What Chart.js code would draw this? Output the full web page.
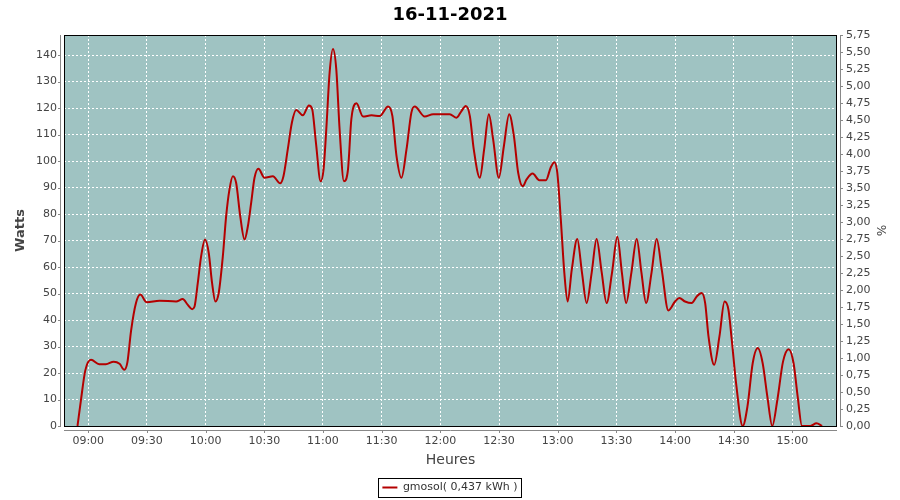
<!DOCTYPE html>
<html>
<head>
<meta charset="utf-8">
<script src="https://cdn.jsdelivr.net/npm/chart.js@4.4.0/dist/chart.umd.min.js"></script>
<style>
html,body{margin:0;padding:0;background:#fff;}
#wrap{width:900px;height:500px;}
</style>
</head>
<body>
<div id="wrap"><canvas id="c" width="900" height="500"></canvas></div>
<script>
const chartTitle = "16-11-2021";
const seriesLabel = "gmosol( 0,437 kWh )";
const xAxisTitle = "Heures";
const leftAxisTitle = "Watts";
const rightAxisTitle = "%";

// minutes after 09:00
const timeMinutes = [
  -5.5, -3.7, -1.5, 1.4, 5.6, 9, 13, 16, 18.4, 20, 21.9, 24.4, 26.6, 29.9, 36.4, 44.9, 48.3, 50.8, 53.1, 54.3,
  56, 57.7, 59.7, 61.6, 63.3, 65, 66.7, 68.8, 70.5, 72.2, 73.9, 75.6, 77.7, 79.9, 81.6, 83.3, 85, 87, 90.1, 94.4,
  98.1, 99.8, 102, 104.1, 106.3, 109.7, 112.8, 114.5, 116.4, 118.8, 120.3, 121.7, 123.4, 125.1, 126.8, 128.5, 130.7, 132.8, 134.5, 137.1,
  140.5, 144.8, 149, 153.3, 155.5, 157.6, 160.1, 162.7, 165.2, 166.9, 172, 176.3, 184.8, 188.3, 190.8, 193, 195.1, 197.1, 200.2, 202.4,
  204.8, 207, 209.9, 212.5, 215.2, 217.6, 219.8, 222.1, 224.1, 227.2, 230.6, 234, 236.4, 238.3, 239.8, 241.6, 243.4, 245.1, 247.2, 250,
  252.4, 254.8, 257.4, 259.9, 262.5, 265, 267.8, 270.5, 272.8, 275, 277.7, 280.4, 282.8, 285.2, 288, 290.6, 293.2, 296.6, 300, 302.2,
  305.1, 308.5, 311.1, 313.6, 315.4, 317.1, 320, 322.7, 325.3, 327.3, 329, 331.2, 334.6, 337, 339.7, 342.3, 344.8, 347.2, 349.7, 352.3,
  355.2, 358.1, 360.6, 362.7, 364.9, 369.2, 372.3, 375.2
];
const watts = [
  0, 10, 21, 25, 23.3, 23.3, 24.3, 23.5, 21.2, 24, 36, 46.4, 49.6, 46.7, 47.3, 47, 47.9, 45.8, 44.1, 45,
  54, 64, 70.4, 65.3, 54, 47, 50.2, 64, 79.2, 89.3, 94.3, 91.8, 79.2, 70.4, 75.4, 84.3, 93.7, 97.1, 93.7, 94.3,
  91.6, 94.3, 104.4, 114.5, 119.3, 117.3, 121, 119.6, 107, 92.4, 96.9, 112, 133.4, 142.3, 134.7, 112, 92.4, 96.9, 115.8, 121.8,
  116.8, 117.3, 117, 120.6, 117, 101.9, 93.7, 104.4, 118.3, 120.6, 116.8, 117.7, 117.7, 116.4, 118.9, 120.8, 117, 104.4, 93.7, 104.4,
  117.7, 108.2, 93.7, 105.7, 117.7, 109.5, 95.6, 90.5, 93.1, 95.3, 92.8, 92.8, 97.5, 99.6, 95.6, 77.9, 57.8, 47, 59, 70.6,
  58, 46.4, 58, 70.6, 58, 46.4, 58, 71.4, 58, 46.4, 58, 70.6, 58, 46.4, 58, 70.6, 59, 43.6, 47, 48.3,
  47, 46.4, 48.9, 50.2, 46.4, 33.8, 23.1, 33.8, 47, 43.9, 32.5, 16.2, 0, 7.3, 23.7, 29.4, 23.7, 11.1, 0, 9.8,
  24.3, 29, 23.7, 11.1, 0, 0, 1, 0
];

const xTickMinutes = [0, 30, 60, 90, 120, 150, 180, 210, 240, 270, 300, 330, 360];
const xTickLabels = ["09:00", "09:30", "10:00", "10:30", "11:00", "11:30", "12:00", "12:30", "13:00", "13:30", "14:00", "14:30", "15:00"];
const leftTicks = [0, 10, 20, 30, 40, 50, 60, 70, 80, 90, 100, 110, 120, 130, 140];
const rightTicks = [0, 0.25, 0.5, 0.75, 1, 1.25, 1.5, 1.75, 2, 2.25, 2.5, 2.75, 3, 3.25, 3.5, 3.75, 4, 4.25, 4.5, 4.75, 5, 5.25, 5.5, 5.75];

const points = timeMinutes.map((t, i) => ({x: t, y: watts[i]}));

const FONT = "'DejaVu Sans', sans-serif";
const TXT = '#444444';
const AXIS = '#888888';

const decorPlugin = {
  id: 'decor',
  beforeDraw(chart) {
    const {ctx, chartArea: a} = chart;
    ctx.save();
    ctx.fillStyle = '#ffffff';
    ctx.fillRect(0, 0, chart.width, chart.height);
    ctx.fillStyle = '#9fc3c2';
    ctx.fillRect(a.left, a.top, a.right - a.left, a.bottom - a.top);
    ctx.restore();
  },
  afterDraw(chart) {
    const {ctx, chartArea: a, scales} = chart;
    ctx.save();
    // plot frame
    ctx.strokeStyle = '#000000';
    ctx.lineWidth = 1;
    ctx.strokeRect(a.left + 0.5, a.top + 0.5, a.right - a.left - 1, a.bottom - a.top);
    // axis lines
    ctx.strokeStyle = AXIS;
    ctx.beginPath();
    ctx.moveTo(a.left - 3.5, a.top); ctx.lineTo(a.left - 3.5, a.bottom + 1);
    ctx.moveTo(a.right + 3.5, a.top); ctx.lineTo(a.right + 3.5, a.bottom + 1);
    ctx.moveTo(a.left, a.bottom + 4.5); ctx.lineTo(a.right, a.bottom + 4.5);
    // tick marks
    scales.y.ticks.forEach(t => {
      const p = Math.round(scales.y.getPixelForValue(t.value)) + 0.5;
      ctx.moveTo(a.left - 6, p); ctx.lineTo(a.left - 3, p);
    });
    scales.y2.ticks.forEach(t => {
      const p = Math.round(scales.y2.getPixelForValue(t.value)) + 0.5;
      ctx.moveTo(a.right + 3, p); ctx.lineTo(a.right + 6, p);
    });
    scales.x.ticks.forEach(t => {
      const p = Math.round(scales.x.getPixelForValue(t.value)) + 0.5;
      ctx.moveTo(p, a.bottom + 4); ctx.lineTo(p, a.bottom + 7);
    });
    ctx.stroke();
    // legend frame
    const hb = chart.legend && chart.legend.legendHitBoxes && chart.legend.legendHitBoxes[0];
    if (hb) {
      ctx.strokeStyle = '#000000';
      ctx.strokeRect(Math.round(hb.left - 4) + 0.5, Math.round(hb.top - 4) + 0.5, Math.round(hb.width + 8), Math.round(hb.height + 8));
    }
    ctx.restore();
  }
};

new Chart(document.getElementById('c'), {
  type: 'line',
  data: {
    datasets: [{
      label: seriesLabel,
      data: points,
      borderColor: '#b40000',
      backgroundColor: '#b40000',
      borderWidth: 2,
      pointRadius: 0,
      fill: false,
      cubicInterpolationMode: 'monotone',
      yAxisID: 'y'
    }]
  },
  options: {
    responsive: false,
    animation: false,
    devicePixelRatio: 1,
    layout: {padding: 0},
    plugins: {
      title: {
        display: true,
        text: chartTitle,
        color: '#000000',
        font: {family: FONT, size: 18, weight: 'bold'},
        padding: {top: 5, bottom: 8.4}
      },
      legend: {
        display: true,
        position: 'bottom',
        maxHeight: 22,
        labels: {
          color: '#333333',
          font: {family: FONT, size: 11},
          usePointStyle: true,
          pointStyle: 'line',
          pointStyleWidth: 15,
          padding: 4
        }
      },
      tooltip: {enabled: false}
    },
    scales: {
      x: {
        type: 'linear',
        min: -12.4,
        max: 382.8,
        afterBuildTicks: s => { s.ticks = xTickMinutes.map(v => ({value: v})); },
        afterFit: s => { s.height = 52; },
        ticks: {
          font: {family: FONT, size: 11},
          color: TXT,
          padding: 9,
          maxRotation: 0,
          autoSkip: false,
          callback: v => xTickLabels[xTickMinutes.indexOf(v)]
        },
        grid: {color: '#ffffff', lineWidth: 1, drawTicks: false},
        border: {display: false, dash: [2, 2]},
        title: {display: true, text: xAxisTitle, color: TXT, font: {family: FONT, size: 14}, padding: {top: 0, bottom: 9}}
      },
      y: {
        position: 'left',
        min: 0,
        max: 147.6,
        afterBuildTicks: s => { s.ticks = leftTicks.map(v => ({value: v})); },
        afterFit: s => { s.width = 64; },
        ticks: {font: {family: FONT, size: 11}, color: TXT, padding: 7, callback: v => String(v)},
        grid: {color: '#ffffff', lineWidth: 1, drawTicks: false},
        border: {display: false, dash: [2, 2]},
        title: {display: true, text: leftAxisTitle, color: TXT, font: {family: FONT, size: 13, weight: 'bold'}, padding: {top: 13, bottom: 0}}
      },
      y2: {
        position: 'right',
        min: 0,
        max: 5.75,
        afterBuildTicks: s => { s.ticks = rightTicks.map(v => ({value: v})); },
        afterFit: s => { s.width = 63; },
        ticks: {font: {family: FONT, size: 11}, color: TXT, padding: 9, callback: v => Number(v).toFixed(2).replace('.', ',')},
        grid: {drawOnChartArea: false, drawTicks: false},
        border: {display: false},
        title: {display: true, text: rightAxisTitle, color: TXT, font: {family: FONT, size: 12}, padding: {top: 13, bottom: 0}}
      }
    }
  },
  plugins: [decorPlugin]
});
</script>
</body>
</html>
